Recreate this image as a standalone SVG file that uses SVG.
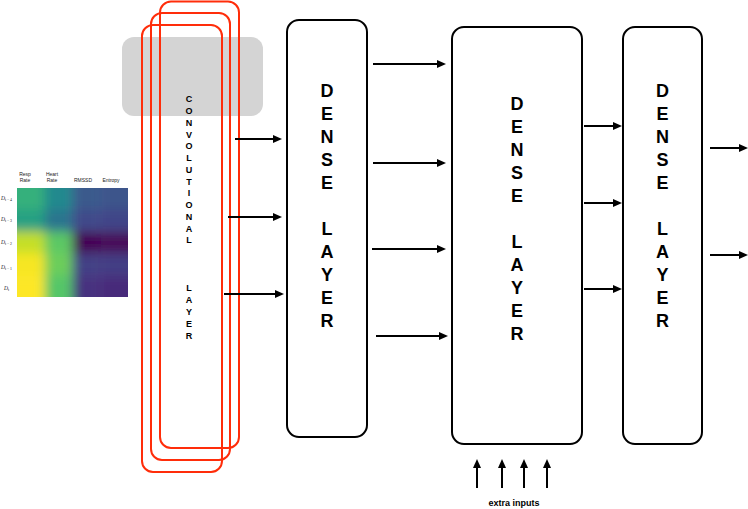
<svg xmlns="http://www.w3.org/2000/svg" width="748" height="509" viewBox="0 0 748 509">
<style>
.dense{fill:#fff;stroke:#000;stroke-width:2}
.conv{fill:none;stroke:#ff2d0a;stroke-width:2}
.big{font-family:"Liberation Sans",Arial,sans-serif;font-weight:bold;font-size:18px;fill:#000;text-anchor:middle}
.small{font-family:"Liberation Sans",Arial,sans-serif;font-weight:bold;font-size:9px;fill:#000;text-anchor:middle}
.tick{font-family:"Liberation Sans",Arial,sans-serif;font-size:5px;fill:#222;text-anchor:middle}
.row{font-family:"Liberation Serif","Times New Roman",serif;font-size:5.5px;fill:#222}
.arr{stroke:#000;stroke-width:2;fill:none;marker-end:url(#ah)}
</style>
<defs>
<marker id="ah" markerWidth="9" markerHeight="8" refX="2" refY="4" orient="auto" markerUnits="userSpaceOnUse">
<path d="M0,0 L9,4 L0,8 z" fill="#000"/>
</marker>
<clipPath id="hmclip"><rect x="17" y="188" width="111" height="109"/></clipPath>
<filter id="blur" x="-20%" y="-20%" width="140%" height="140%"><feGaussianBlur stdDeviation="5.5"/></filter>
</defs>
<rect width="748" height="509" fill="#fff"/>

<g id="heatmap">
<g clip-path="url(#hmclip)">
<g filter="url(#blur)">
<rect x="0" y="170" width="45" height="40" fill="#34b07c"/>
<rect x="44.75" y="170" width="28" height="40" fill="#23898e"/>
<rect x="72.5" y="170" width="28" height="40" fill="#3b5a8c"/>
<rect x="100.25" y="170" width="45" height="40" fill="#3c548b"/>
<rect x="0" y="209.8" width="45" height="22" fill="#27a083"/>
<rect x="44.75" y="209.8" width="28" height="22" fill="#2b758e"/>
<rect x="72.5" y="209.8" width="28" height="22" fill="#3f4a8a"/>
<rect x="100.25" y="209.8" width="45" height="22" fill="#404588"/>
<rect x="0" y="231.6" width="45" height="22" fill="#c4df25"/>
<rect x="44.75" y="231.6" width="28" height="22" fill="#5cc863"/>
<rect x="72.5" y="231.6" width="28" height="22" fill="#440154"/>
<rect x="100.25" y="231.6" width="45" height="22" fill="#46075a"/>
<rect x="0" y="253.4" width="45" height="22" fill="#f6e620"/>
<rect x="44.75" y="253.4" width="28" height="22" fill="#6ccd5a"/>
<rect x="72.5" y="253.4" width="28" height="22" fill="#423f85"/>
<rect x="100.25" y="253.4" width="45" height="22" fill="#433d84"/>
<rect x="0" y="275.2" width="45" height="40" fill="#fde725"/>
<rect x="44.75" y="275.2" width="28" height="40" fill="#55c667"/>
<rect x="72.5" y="275.2" width="28" height="40" fill="#46337f"/>
<rect x="100.25" y="275.2" width="45" height="40" fill="#472c7a"/>
</g>
</g>
<text class="tick" x="25" y="176">Resp</text>
<text class="tick" x="25" y="181.5">Rate</text>
<text class="tick" x="52" y="176">Heart</text>
<text class="tick" x="52" y="181.5">Rate</text>
<text class="tick" x="83" y="181.5">RMSSD</text>
<text class="tick" x="111" y="181.5">Entropy</text>
<text class="row" x="1" y="200"><tspan font-style="italic">D</tspan><tspan font-size="3.8" dy="1">t − 4</tspan></text>
<text class="row" x="1" y="221"><tspan font-style="italic">D</tspan><tspan font-size="3.8" dy="1">t − 3</tspan></text>
<text class="row" x="1" y="244"><tspan font-style="italic">D</tspan><tspan font-size="3.8" dy="1">t − 2</tspan></text>
<text class="row" x="1" y="269"><tspan font-style="italic">D</tspan><tspan font-size="3.8" dy="1">t − 1</tspan></text>
<text class="row" x="4" y="290"><tspan font-style="italic">D</tspan><tspan font-size="3.8" dy="1">t</tspan></text>
</g>

<g id="conv-layer">
<rect x="122" y="37" width="141" height="79" rx="12" fill="#d4d4d4"/>
<rect class="conv" x="160" y="1.5" width="79" height="446.5" rx="11"/>
<rect class="conv" x="151" y="13" width="79" height="447" rx="11"/>
<rect class="conv" x="142" y="25" width="80" height="447" rx="11"/>
<text class="small" x="189" y="102.3">
<tspan x="189">C</tspan><tspan x="189" dy="11.75">O</tspan><tspan x="189" dy="11.75">N</tspan><tspan x="189" dy="11.75">V</tspan><tspan x="189" dy="11.75">O</tspan><tspan x="189" dy="11.75">L</tspan><tspan x="189" dy="11.75">U</tspan><tspan x="189" dy="11.75">T</tspan><tspan x="189" dy="11.75">I</tspan><tspan x="189" dy="11.75">O</tspan><tspan x="189" dy="11.75">N</tspan><tspan x="189" dy="11.75">A</tspan><tspan x="189" dy="11.75">L</tspan><tspan x="189" dy="48">L</tspan><tspan x="189" dy="12">A</tspan><tspan x="189" dy="12">Y</tspan><tspan x="189" dy="12">E</tspan><tspan x="189" dy="12">R</tspan>
</text>
</g>

<g id="dense1">
<rect class="dense" x="287" y="20" width="80" height="417" rx="12"/>
<text class="big" y="96.5"><tspan x="327">D</tspan><tspan x="327" dy="23">E</tspan><tspan x="327" dy="23">N</tspan><tspan x="327" dy="23">S</tspan><tspan x="327" dy="23">E</tspan><tspan x="327" dy="46">L</tspan><tspan x="327" dy="23">A</tspan><tspan x="327" dy="23">Y</tspan><tspan x="327" dy="23">E</tspan><tspan x="327" dy="23">R</tspan></text>
</g>

<g id="dense2">
<rect class="dense" x="452" y="27" width="130" height="417" rx="12"/>
<text class="big" y="109.5"><tspan x="517">D</tspan><tspan x="517" dy="23">E</tspan><tspan x="517" dy="23">N</tspan><tspan x="517" dy="23">S</tspan><tspan x="517" dy="23">E</tspan><tspan x="517" dy="46">L</tspan><tspan x="517" dy="23">A</tspan><tspan x="517" dy="23">Y</tspan><tspan x="517" dy="23">E</tspan><tspan x="517" dy="23">R</tspan></text>
</g>

<g id="dense3">
<rect class="dense" x="623" y="27" width="79" height="417" rx="12"/>
<text class="big" y="96.5"><tspan x="662.5">D</tspan><tspan x="662.5" dy="23">E</tspan><tspan x="662.5" dy="23">N</tspan><tspan x="662.5" dy="23">S</tspan><tspan x="662.5" dy="23">E</tspan><tspan x="662.5" dy="46">L</tspan><tspan x="662.5" dy="23">A</tspan><tspan x="662.5" dy="23">Y</tspan><tspan x="662.5" dy="23">E</tspan><tspan x="662.5" dy="23">R</tspan></text>
</g>

<g id="extra-inputs">
<text class="small" x="514" y="506">extra inputs</text>
</g>

<g id="connectors">
<path class="arr" d="M235,139 H275"/>
<path class="arr" d="M228,217 H275"/>
<path class="arr" d="M224,294 H277"/>
<path class="arr" d="M373,64 H439"/>
<path class="arr" d="M373,163 H439"/>
<path class="arr" d="M372,249 H439"/>
<path class="arr" d="M376,336 H441"/>
<path class="arr" d="M584,126 H615"/>
<path class="arr" d="M584,203 H615"/>
<path class="arr" d="M584,289 H615"/>
<path class="arr" d="M710,148 H741"/>
<path class="arr" d="M710,255 H741"/>
<path class="arr" d="M477,488 V466"/>
<path class="arr" d="M502,488 V466"/>
<path class="arr" d="M524,488 V466"/>
<path class="arr" d="M547,488 V466"/>
</g>
</svg>
